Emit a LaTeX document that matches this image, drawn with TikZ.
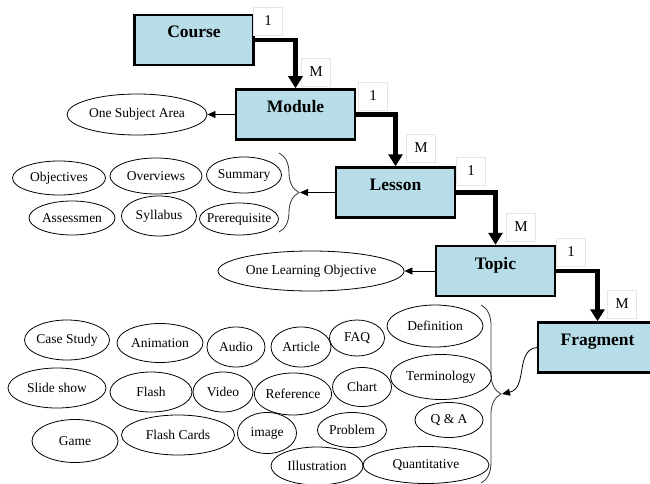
\documentclass[tikz,border=0pt]{standalone}
\usepackage{fontspec}
\setmainfont{Liberation Serif}
\usetikzlibrary{shapes.geometric,arrows.meta,decorations.pathreplacing}

\definecolor{boxblue}{RGB}{183,221,232}

\begin{document}
\begin{tikzpicture}[x=1pt,y=-1pt,
    level/.style={draw, line width=2.5pt, fill=boxblue, minimum width=119pt, inner sep=0pt,
        text height=23pt, text depth=27pt, font=\fontsize{17.5}{19}\selectfont\bfseries},
    item/.style 2 args={ellipse, draw, line width=0.8pt, inner sep=0pt,
        minimum width=#1pt, minimum height=#2pt, font=\fontsize{13.5}{15}\selectfont},
    card/.style={draw=gray!20, line width=0.6pt, fill=white, minimum width=29pt,
        minimum height=28pt, inner sep=0pt, font=\fontsize{15}{17}\selectfont},
    link/.style={line width=4.5pt, -{Triangle[width=14pt,length=12pt]}},
    pointer/.style={line width=0.8pt, -{Triangle[width=7pt,length=8pt]}},
    curly/.style={line width=0.8pt, black!80, decorate, decoration={brace, amplitude=20pt}}]
    \useasboundingbox (0,0) rectangle (650,484);

    % Levels
    \node[level] (course) at (194,40) {Course};
    \node[level] (module) at (295.5,114.5) {Module};
    \node[level] (lesson) at (395.5,192.5) {Lesson};
    \node[level] (topic) at (495.5,271) {Topic};
    \node[level] (fragment) at (597.5,347.5) {Fragment};

    % Cardinalities
    \node[card] (one1) at (268,21) {1};
    \node[card] (many1) at (316,72) {M};
    \node[card] (one2) at (373,96) {1};
    \node[card] (many2) at (421,148) {M};
    \node[card] (one3) at (471,171) {1};
    \node[card] (many3) at (521,227) {M};
    \node[card] (one4) at (571,252) {1};
    \node[card] (many4) at (622,304) {M};

    % Module part
    \node[item={140}{41}] (subjarea) at (137,114.5) {One Subject Area};

    % Lesson parts
    \node[item={93}{34}] (objectives) at (59,178) {Objectives};
    \node[item={92}{36}] (overviews) at (156,176) {Overviews};
    \node[item={75}{36}] (summary) at (244,175) {Summary};
    \node[item={86}{34}] (assessmen) at (72,218) {Assessmen};
    \node[item={75}{40}] (syllabus) at (159,216) {Syllabus};
    \node[item={79}{32}, inner xsep=-5pt] (prereq) at (239,219) {Prerequisite};
    \draw[curly] (279,153) -- (279,232);
    \coordinate (tipA) at (300,192.5);

    % Topic part
    \node[item={186}{40}] (learnobj) at (311,271) {One Learning Objective};

    % Fragment parts
    \node[item={85}{40}, inner xsep=-1pt] (casestudy) at (67,340) {Case Study};
    \node[item={86}{39}] (animation) at (160,343) {Animation};
    \node[item={58}{40}] (audio) at (236,347) {Audio};
    \node[item={60}{40}] (article) at (301,347) {Article};
    \node[item={55}{36}] (faq) at (357,338) {FAQ};
    \node[item={96}{42}] (definition) at (435,326) {Definition};
    \node[item={98}{40}] (slideshow) at (57,388) {Slide show};
    \node[item={82}{40}] (flash) at (151,392) {Flash};
    \node[item={60}{40}] (video) at (223,392) {Video};
    \node[item={77}{42}] (reference) at (293,394) {Reference};
    \node[item={59}{39}] (chart) at (362,387) {Chart};
    \node[item={101}{45}] (terminology) at (441,377) {Terminology};
    \node[item={86}{43}] (game) at (75,441) {Game};
    \node[item={113}{40}] (flashcards) at (178,435) {Flash Cards};
    \node[item={59}{41}] (image) at (267,433) {image};
    \node[item={69}{35}] (problem) at (352,430) {Problem};
    \node[item={68}{35}] (qa) at (449,420) {Q \& A};
    \node[item={92}{38}] (illustration) at (317,466) {Illustration};
    \node[item={126}{37}] (quantitative) at (426,465) {Quantitative};
    \draw[curly] (481,305) -- (481,483);
    \coordinate (tipB) at (502,394);

    % Connectors
    \draw[link] (course.east) -| (module.north);
    \draw[link] (module.east) -| (lesson.north);
    \draw[link] (lesson.east) -| (topic.north);
    \draw[link] (topic.east) -| (fragment.north);
    \draw[pointer] (module.west) -- (subjarea.east);
    \draw[pointer] (lesson.west) -- (tipA);
    \draw[pointer] (topic.west) -- (learnobj.east);
    \draw[pointer] (fragment.west) .. controls (515,350) and (528,388) .. (tipB);
\end{tikzpicture}
\end{document}
